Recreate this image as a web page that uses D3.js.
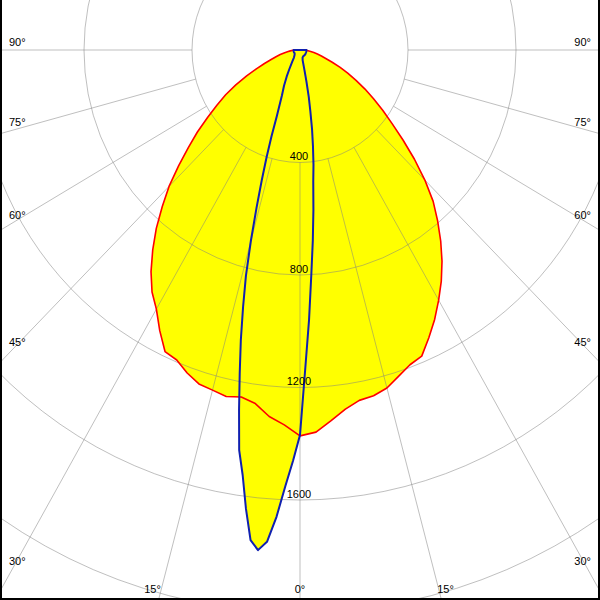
<!DOCTYPE html>
<html><head><meta charset="utf-8">
<script src="https://cdn.jsdelivr.net/npm/d3@7"></script>
<style>html,body{margin:0;padding:0;background:#fff;} svg{display:block;}</style>
</head><body>
<script>
// C0-C180 plane (red), gamma angles in degrees (negative = left)
const redAngles = [-90,-87.5,-85,-82.5,-80,-77.5,-75,-72.5,-70,-67.5,-65,-62.5,-60,-57.5,-55,-52.5,-50,-47.5,-45,-42.5,-40,-37.5,-35,-32.5,-30,-27.5,-25,-22.5,-20,-17.5,-15,-12.5,-10,-7.5,-5,-2.5,0,2.5,5,7.5,10,12.5,15,17.5,20,22.5,25,27.5,30,32.5,35,37.5,40,42.5,45,47.5,50,52.5,55,57.5,60,62.5,65,67.5,70,72.5,75,77.5,80,82.5,85,87.5,90];
const redValues = [20,26,36,47,60,75,92,112,140,175,218,268,318,365,418,479,540,610,686,755,828,896,962,1020,1064,1125,1183,1193,1222,1245,1252,1262,1253,1268,1308,1334,1372,1360,1323,1288,1265,1259,1244,1216,1191,1178,1129,1080,1027,974,917,856,793,730,654,575,498,430,374,323,278,234,195,161,127,100,82,66,52,40,30,24,20];
// C90-C270 plane (blue)
const blueAngles = [-90,-80,-70,-60,-50,-40,-35,-30,-27.5,-25,-22.5,-20,-19,-18,-17,-16,-15,-14,-13,-12,-11,-10,-9,-8,-7,-6,-5,-4,-3,-2,-1,0,1,2,3,4,5,6,7,8,9,10,11,12,13,14,15,20,30,40,50,60,70,80,90];
const blueValues = [24,24,24,23,26,35,50,80,107,140,175,252,324,400,485,585,704,828,937,1054,1170,1300,1440,1526,1643,1752,1785,1753,1662,1551,1460,1369,1130,960,800,680,570,470,410,345,285,220,170,115,75,50,38,28,25,25,25,24,24,24,24];
// grid
const ringValues = [400, 800, 1200, 1600, 2000, 2400];
const ringLabels = ["400", "800", "1200", "1600"];
const spokeAngles = [-90,-75,-60,-45,-30,-15,0,15,30,45,60,75,90];

const W = 600, H = 600, cx = 300, cy = 50;
const rX = d3.scaleLinear().domain([0, 2000]).range([0, 540]);
const rY = d3.scaleLinear().domain([0, 2000]).range([0, 562.5]);
const rad = d => d * Math.PI / 180;
const px = (g, v) => cx + rX(v * Math.sin(rad(g)));
const py = (g, v) => cy + rY(v * Math.cos(rad(g)));

const svg = d3.select("body").append("svg").attr("width", W).attr("height", H);
svg.append("rect").attr("width", W).attr("height", H).attr("fill", "#fff");

const red = redAngles.map((g, i) => [g, redValues[i]]);
const blue = blueAngles.map((g, i) => [g, blueValues[i]]);
const lineC = d3.line().x(d => px(d[0], d[1])).y(d => py(d[0], d[1])).curve(d3.curveLinearClosed);

// fills
svg.append("path").attr("d", lineC(red)).attr("fill", "#ffff00");
svg.append("path").attr("d", lineC(blue)).attr("fill", "#ffff00");

// grid
const grid = svg.append("g").attr("fill", "none").attr("stroke", "#808080").attr("stroke-opacity", 0.5).attr("stroke-width", 1);
ringValues.forEach(v => {
  grid.append("ellipse").attr("cx", cx).attr("cy", cy).attr("rx", rX(v)).attr("ry", rY(v));
});
spokeAngles.forEach(g => {
  grid.append("line").attr("x1", px(g, 400)).attr("y1", py(g, 400)).attr("x2", px(g, 3000)).attr("y2", py(g, 3000));
});

// curves
svg.append("path").attr("d", lineC(red)).attr("fill", "none").attr("stroke", "#ff0000").attr("stroke-width", 1.6).attr("stroke-linejoin", "round");
svg.append("path").attr("d", lineC(blue)).attr("fill", "none").attr("stroke", "#1020b0").attr("stroke-width", 2).attr("stroke-linejoin", "round");

// ring labels
const font = "'Liberation Sans', Arial, sans-serif";
ringLabels.forEach(t => {
  svg.append("text").attr("x", 299).attr("y", cy + rY(+t) - 2.5).attr("text-anchor", "middle")
    .attr("font-family", font).attr("font-size", 11).attr("fill", "#000").text(t);
});

// angle labels at the sides
[90, 75, 60, 45, 30].forEach(g => {
  const s = Math.sin(rad(g)), c = Math.cos(rad(g));
  const v = rX.invert(282) / s;
  const yc = cy + rY(v * c);
  const base = yc + (yc - cy) * 0.02 - 4;
  svg.append("text").attr("x", 9).attr("y", base).attr("text-anchor", "start")
    .attr("font-family", font).attr("font-size", 11).attr("fill", "#000").text(g + "°");
  svg.append("text").attr("x", 591).attr("y", base).attr("text-anchor", "end")
    .attr("font-family", font).attr("font-size", 11).attr("fill", "#000").text(g + "°");
});
// bottom labels
[15, 0].forEach(g => {
  const v = rY.invert(593 - cy) / Math.cos(rad(g));
  const dx = rX(v * Math.sin(rad(g)));
  if (g === 0) {
    svg.append("text").attr("x", cx).attr("y", 593).attr("text-anchor", "middle")
      .attr("font-family", font).attr("font-size", 11).attr("fill", "#000").text("0°");
  } else {
    svg.append("text").attr("x", cx - dx + 0.5).attr("y", 593).attr("text-anchor", "end")
      .attr("font-family", font).attr("font-size", 11).attr("fill", "#000").text(g + "°");
    svg.append("text").attr("x", cx + dx - 2.5).attr("y", 593).attr("text-anchor", "start")
      .attr("font-family", font).attr("font-size", 11).attr("fill", "#000").text(g + "°");
  }
});

// frame
const frame = svg.append("g").attr("stroke", "#000").attr("stroke-width", 2);
frame.append("line").attr("x1", 1).attr("y1", 0).attr("x2", 1).attr("y2", H);
frame.append("line").attr("x1", W - 1).attr("y1", 0).attr("x2", W - 1).attr("y2", H);
frame.append("line").attr("x1", 0).attr("y1", H - 1).attr("x2", W).attr("y2", H - 1);
</script>
</body></html>
